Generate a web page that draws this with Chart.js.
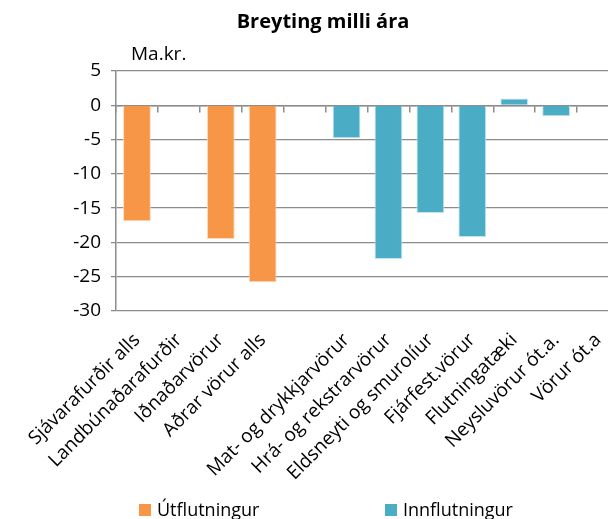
<!DOCTYPE html>
<html lang="is">
<head>
<meta charset="UTF-8">
<title>Breyting milli ára</title>
<script src="https://cdn.jsdelivr.net/npm/chart.js"></script>
<style>
  html, body { margin: 0; padding: 0; background: #fff; overflow: hidden; }
  #chart { display: block; }
</style>
</head>
<body>
<canvas id="chart" width="650" height="519"></canvas>
<script>
    // Flokkar (tómur flokkur skilur á milli útflutnings og innflutnings)
    const categories = [
        'Sjávarafurðir alls', 'Landbúnaðarafurðir', 'Iðnaðarvörur', 'Aðrar vörur alls', '',
        'Mat- og drykkjarvörur', 'Hrá- og rekstrarvörur', 'Eldsneyti og smurolíur',
        'Fjárfest.vörur', 'Flutningatæki', 'Neysluvörur ót.a.', 'Vörur ót.a'
    ];
    // Breyting í ma.kr.
    const utflutningur  = [-16.9, -0.1, -19.5, -25.8, null, null, null, null, null, null, null, null];
    const innflutningur = [null, null, null, null, null, -4.8, -22.4, -15.7, -19.2, 1.0, -1.6, 0];
    const yMin = -30, yMax = 5, yStep = 5;
    const unitLabel = 'Ma.kr.';

    const gridColor = '#8c8c8c';
    const fontFamily = '"Open Sans", sans-serif';

    // "Ma.kr." above the axis and an Excel-style spaced legend
    const extraText = {
        id: 'extraText',
        afterDraw(chart) {
            const ctx = chart.ctx;
            const area = chart.chartArea;
            const legendX = [139, 385];
            ctx.save();
            ctx.textBaseline = 'middle';
            ctx.fillStyle = '#000';
            ctx.font = '19px ' + fontFamily;
            ctx.fillText(unitLabel, area.left + 15, area.top - 16);
            ctx.font = '18px ' + fontFamily;
            chart.data.datasets.forEach((ds, i) => {
                ctx.fillStyle = ds.backgroundColor;
                ctx.fillRect(legendX[i], 504, 12, 12);
                ctx.fillStyle = '#000';
                ctx.fillText(ds.label, legendX[i] + 18, 511);
            });
            ctx.restore();
        }
    };

    const chart = new Chart(document.getElementById('chart'), {
        type: 'bar',
        data: {
            labels: categories,
            datasets: [
                {
                    label: 'Útflutningur',
                    data: utflutningur,
                    backgroundColor: '#F79646',
                    borderColor: '#fcd9bd',
                    borderWidth: 1
                },
                {
                    label: 'Innflutningur',
                    data: innflutningur,
                    backgroundColor: '#4BACC6',
                    borderColor: '#c4e5ee',
                    borderWidth: 1
                }
            ]
        },
        options: {
            responsive: false,
            animation: false,
            devicePixelRatio: 1,
            grouped: false,
            categoryPercentage: 1,
            barPercentage: 0.663,
            layout: { padding: { left: 27, right: 31, top: 0, bottom: 0 } },
            plugins: {
                legend: { display: false },
                tooltip: { enabled: false },
                title: {
                    display: true,
                    text: 'Breyting milli ára',
                    color: '#000',
                    font: { family: fontFamily, size: 20, weight: 'bold' },
                    padding: { top: 10, bottom: 37 }
                }
            },
            scales: {
                x: {
                    grid: { display: false },
                    border: { display: false },
                    ticks: {
                        color: '#000',
                        font: { family: fontFamily, size: 19 },
                        maxRotation: 45,
                        minRotation: 45,
                        autoSkip: false,
                        padding: 10
                    },
                    afterFit(scale) { scale.height = 208; }
                },
                // axis line through zero with tick marks between categories
                xZero: {
                    type: 'category',
                    labels: categories,
                    position: { y: 0 },
                    offset: true,
                    grid: {
                        offset: true,
                        drawOnChartArea: false,
                        drawTicks: true,
                        tickLength: 6,
                        color: gridColor,
                        lineWidth: 1.5
                    },
                    border: { display: true, color: gridColor, width: 1.5 },
                    ticks: { display: false }
                },
                y: {
                    min: yMin,
                    max: yMax,
                    ticks: {
                        stepSize: yStep,
                        color: '#000',
                        font: { family: fontFamily, size: 19 },
                        padding: 10
                    },
                    grid: { color: gridColor, lineWidth: 1.3, tickLength: 5 },
                    border: { display: true, color: gridColor, width: 1.5 },
                    afterFit(scale) { scale.width = 89; }
                }
            }
        },
        plugins: [extraText]
    });
</script>
</body>
</html>
